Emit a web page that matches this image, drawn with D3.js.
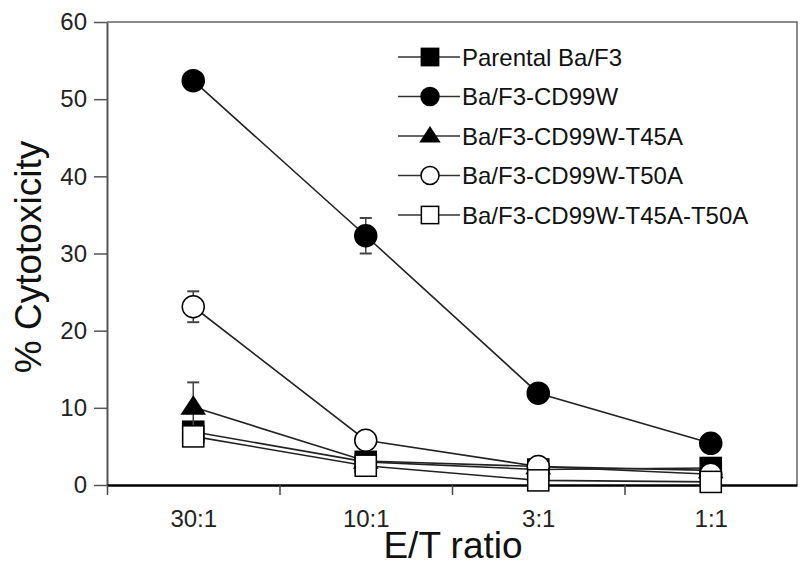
<!DOCTYPE html>
<html>
<head>
<meta charset="utf-8">
<script src="https://cdn.jsdelivr.net/npm/d3@7"></script>
<style>
  html, body { margin: 0; padding: 0; background: #fff; }
  svg { display: block; font-family: "Liberation Sans", Arial, Helvetica, sans-serif; }
</style>
</head>
<body>
<svg id="chart" width="800" height="581"></svg>
<script>
// ---- data ----
const categories = ["30:1", "10:1", "3:1", "1:1"];
const yTicks = [0, 10, 20, 30, 40, 50, 60];
const seriesNames = ["Parental Ba/F3", "Ba/F3-CD99W", "Ba/F3-CD99W-T45A", "Ba/F3-CD99W-T50A", "Ba/F3-CD99W-T45A-T50A"];
const parental   = [6.9, 3.0, 2.0, 2.2];
const cd99w      = [52.4, 32.3, 11.9, 5.4];
const t45a       = [10.1, 3.1, 2.4, 1.9];
const t50a       = [23.1, 5.8, 2.4, 1.4];
const t45a_t50a  = [6.3, 2.5, 0.6, 0.4];
const errParental  = [0, 0, 0, 0];
const errCd99w     = [0, 2.3, 0, 0];
const errT45a      = [3.2, 0, 0, 0];
const errT50a      = [2.0, 0.8, 0, 0];
const errT45aT50a  = [0, 0, 0, 0];

const series = [
  { name: seriesNames[0], values: parental,  err: errParental, shape: "square",   fill: "#000" },
  { name: seriesNames[1], values: cd99w,     err: errCd99w,    shape: "circle",   fill: "#000" },
  { name: seriesNames[2], values: t45a,      err: errT45a,     shape: "triangle", fill: "#000" },
  { name: seriesNames[3], values: t50a,      err: errT50a,     shape: "circle",   fill: "#fff" },
  { name: seriesNames[4], values: t45a_t50a, err: errT45aT50a, shape: "square",   fill: "#fff" }
];

const svg = d3.select("#chart");
const pL = 107, pR = 797, pT = 22, pB = 485;
const x = d3.scaleLinear().domain([0.5, 4.5]).range([pL, pR]);
const y = d3.scaleLinear().domain([0, 60]).range([pB, pT]);
const FONT = "Liberation Sans, Arial, sans-serif";

// frame (top & right)
svg.append("path")
  .attr("d", `M${pL},${pT}H${pR}V${pB}`)
  .attr("fill", "none").attr("stroke", "#666").attr("stroke-width", 1.5);

// y axis
const yAxis = svg.append("g").attr("transform", `translate(${pL},0)`)
  .call(d3.axisLeft(y).tickValues(yTicks).tickSize(13).tickPadding(7).tickSizeOuter(0));
yAxis.select(".domain").attr("stroke", "#555").attr("stroke-width", 2);
yAxis.selectAll(".tick line").attr("stroke", "#555").attr("stroke-width", 1.5);
yAxis.selectAll(".tick text").attr("font-size", 24).attr("fill", "#222").attr("font-family", FONT);

// x axis ticks (between categories)
const xAxis = svg.append("g").attr("transform", `translate(0,${pB})`)
  .call(d3.axisBottom(x).tickValues([0.5, 1.5, 2.5, 3.5]).tickSize(10).tickFormat("").tickSizeOuter(0));
xAxis.select(".domain").attr("stroke", "#000").attr("stroke-width", 2.5);
xAxis.selectAll(".tick line").attr("stroke", "#444").attr("stroke-width", 1.5);

// x labels at category centers
const xLab = svg.append("g").attr("transform", `translate(0,${pB})`)
  .call(d3.axisBottom(x).tickValues([1, 2, 3, 4]).tickSize(0).tickPadding(25)
    .tickFormat((d) => categories[d - 1]));
xLab.select(".domain").remove();
xLab.selectAll(".tick text").attr("font-size", 24).attr("fill", "#222").attr("font-family", FONT);

// axis titles
svg.append("text").attr("x", 453).attr("y", 558).attr("text-anchor", "middle")
  .attr("font-size", 37).attr("fill", "#111").text("E/T ratio");
svg.append("text").attr("transform", "translate(41,257) rotate(-90)").attr("text-anchor", "middle")
  .attr("font-size", 37).attr("fill", "#111").text("% Cytotoxicity");

// marker drawing
function drawMarker(g, shape, fill, cx, cy, s) {
  if (shape === "circle") {
    g.append("circle").attr("cx", cx).attr("cy", cy).attr("r", s * 0.5)
      .attr("fill", fill).attr("stroke", "#000").attr("stroke-width", 1.5);
  } else if (shape === "square") {
    g.append("rect").attr("x", cx - s * 0.48).attr("y", cy - s * 0.48)
      .attr("width", s * 0.96).attr("height", s * 0.96)
      .attr("fill", fill).attr("stroke", "#000").attr("stroke-width", 1.5);
  } else {
    const h = s * 0.8, w = s * 0.52;
    g.append("path").attr("d", `M${cx},${cy - h * 0.6}L${cx + w},${cy + h * 0.4}L${cx - w},${cy + h * 0.4}Z`)
      .attr("fill", fill).attr("stroke", "#000").attr("stroke-width", 1.5);
  }
}

const line = d3.line().x((d, i) => x(i + 1)).y((d) => y(d));

// lines
series.forEach((s) => {
  svg.append("path").datum(s.values).attr("d", line)
    .attr("fill", "none").attr("stroke", "#222").attr("stroke-width", 1.6);
});

// error bars + markers
series.forEach((s) => {
  const g = svg.append("g");
  s.values.forEach((v, i) => {
    const e = s.err[i];
    if (e > 0) {
      const cx = x(i + 1);
      g.append("line").attr("x1", cx).attr("x2", cx).attr("y1", y(v - e)).attr("y2", y(v + e))
        .attr("stroke", "#444").attr("stroke-width", 1.5);
      [v - e, v + e].forEach((ev) => {
        g.append("line").attr("x1", cx - 6).attr("x2", cx + 6).attr("y1", y(ev)).attr("y2", y(ev))
          .attr("stroke", "#444").attr("stroke-width", 2);
      });
    }
  });
  s.values.forEach((v, i) => drawMarker(g, s.shape, s.fill, x(i + 1), y(v), 22));
});

// legend
const legY0 = 57, legDy = 39.5, legX1 = 398, legX2 = 460, legMx = 430;
series.forEach((s, i) => {
  const ly = legY0 + i * legDy;
  const g = svg.append("g");
  g.append("line").attr("x1", legX1).attr("x2", legX2).attr("y1", ly).attr("y2", ly)
    .attr("stroke", "#333").attr("stroke-width", 1.5);
  drawMarker(g, s.shape, s.fill, legMx, ly, 18);
  g.append("text").attr("x", legX2 + 2).attr("y", ly).attr("dy", "0.36em")
    .attr("font-size", 24).attr("fill", "#111").text(s.name);
});
</script>
</body>
</html>
